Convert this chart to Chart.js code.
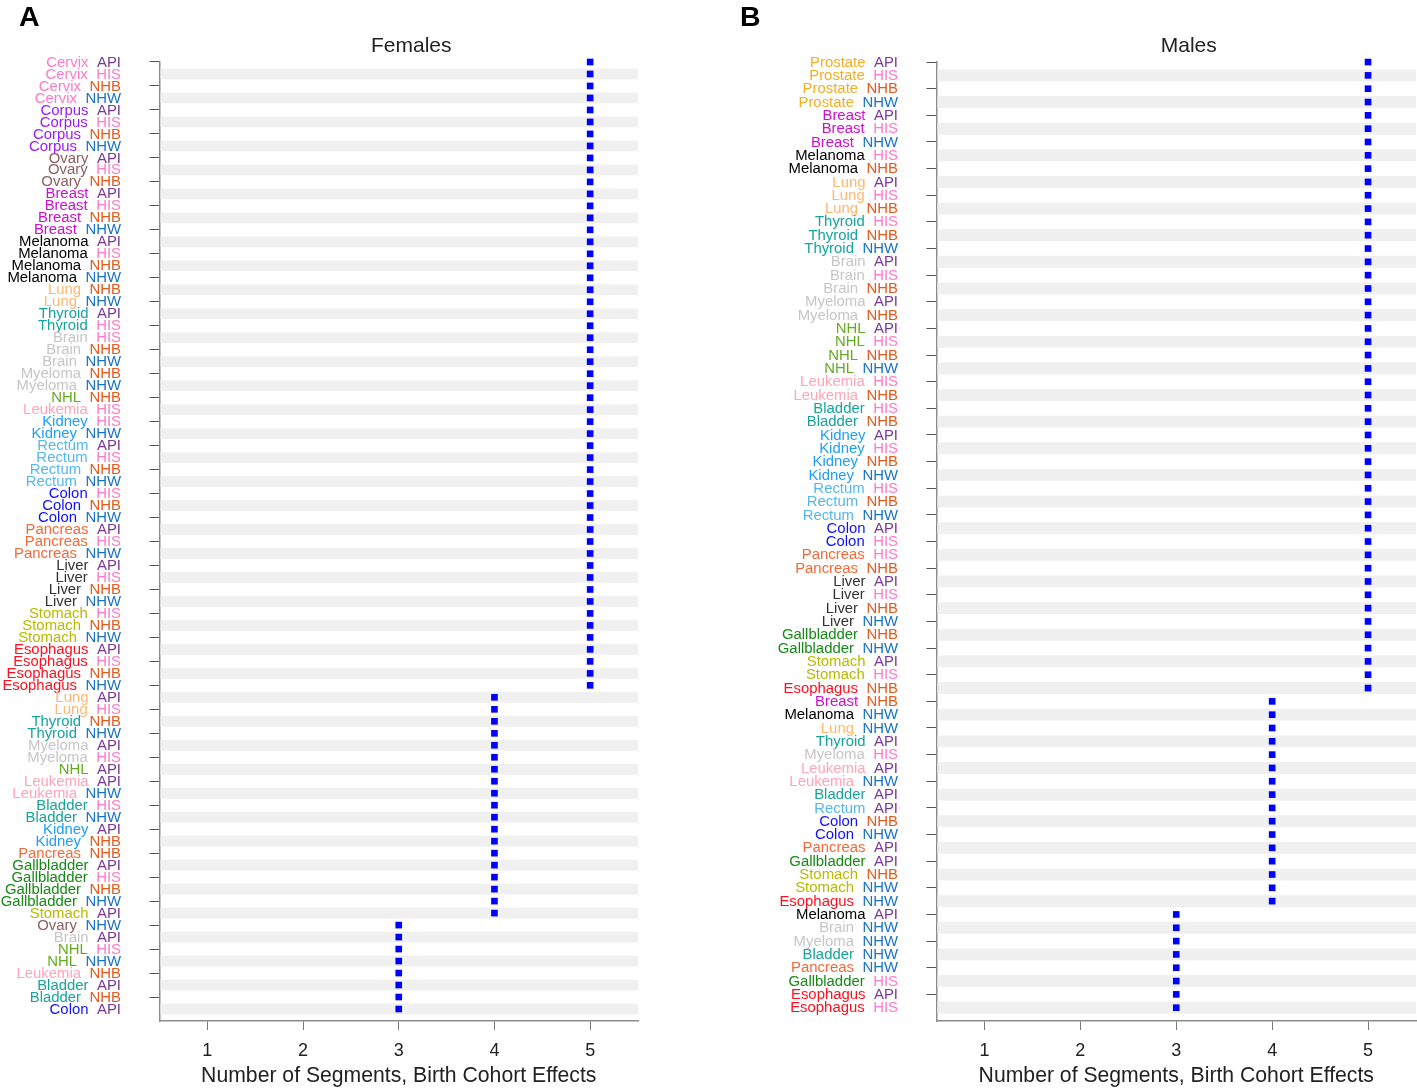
<!DOCTYPE html>
<html>
<head>
<meta charset="utf-8">
<script src="https://cdn.jsdelivr.net/npm/chart.js@4.4.1/dist/chart.umd.min.js"></script>
<style>
  html, body { margin: 0; padding: 0; background: #fff; }
  #wrap { position: relative; width: 1417px; height: 1089px; }
  #femalesChart { position: absolute; left: 0; top: 0; }
  #malesChart { position: absolute; left: 700px; top: 0; }
</style>
</head>
<body>
<div id="wrap">
  <canvas id="femalesChart" width="660" height="1089"></canvas>
  <canvas id="malesChart" width="717" height="1089"></canvas>
</div>
<script>
// Females, top to bottom
const femaleSites = [
  "Cervix", "Cervix", "Cervix", "Cervix", "Corpus", "Corpus", "Corpus", "Corpus",
  "Ovary", "Ovary", "Ovary", "Breast", "Breast", "Breast", "Breast",
  "Melanoma", "Melanoma", "Melanoma", "Melanoma", "Lung", "Lung", "Thyroid", "Thyroid",
  "Brain", "Brain", "Brain", "Myeloma", "Myeloma", "NHL", "Leukemia", "Kidney", "Kidney",
  "Rectum", "Rectum", "Rectum", "Rectum", "Colon", "Colon", "Colon",
  "Pancreas", "Pancreas", "Pancreas", "Liver", "Liver", "Liver", "Liver",
  "Stomach", "Stomach", "Stomach", "Esophagus", "Esophagus", "Esophagus", "Esophagus",
  "Lung", "Lung", "Thyroid", "Thyroid", "Myeloma", "Myeloma", "NHL", "Leukemia", "Leukemia",
  "Bladder", "Bladder", "Kidney", "Kidney", "Pancreas",
  "Gallbladder", "Gallbladder", "Gallbladder", "Gallbladder", "Stomach",
  "Ovary", "Brain", "NHL", "NHL", "Leukemia", "Bladder", "Bladder", "Colon"
];
const femaleRaces = [
  "API", "HIS", "NHB", "NHW", "API", "HIS", "NHB", "NHW",
  "API", "HIS", "NHB", "API", "HIS", "NHB", "NHW",
  "API", "HIS", "NHB", "NHW", "NHB", "NHW", "API", "HIS",
  "HIS", "NHB", "NHW", "NHB", "NHW", "NHB", "HIS", "HIS", "NHW",
  "API", "HIS", "NHB", "NHW", "HIS", "NHB", "NHW",
  "API", "HIS", "NHW", "API", "HIS", "NHB", "NHW",
  "HIS", "NHB", "NHW", "API", "HIS", "NHB", "NHW",
  "API", "HIS", "NHB", "NHW", "API", "HIS", "API", "API", "NHW",
  "HIS", "NHW", "API", "NHB", "NHB",
  "API", "HIS", "NHB", "NHW", "API",
  "NHW", "API", "HIS", "NHW", "NHB", "API", "NHB", "API"
];
const femaleSegments = [
  5, 5, 5, 5, 5, 5, 5, 5,
  5, 5, 5, 5, 5, 5, 5,
  5, 5, 5, 5, 5, 5, 5, 5,
  5, 5, 5, 5, 5, 5, 5, 5, 5,
  5, 5, 5, 5, 5, 5, 5,
  5, 5, 5, 5, 5, 5, 5,
  5, 5, 5, 5, 5, 5, 5,
  4, 4, 4, 4, 4, 4, 4, 4, 4,
  4, 4, 4, 4, 4,
  4, 4, 4, 4, 4,
  3, 3, 3, 3, 3, 3, 3, 3
];

// Males, top to bottom
const maleSites = [
  "Prostate", "Prostate", "Prostate", "Prostate", "Breast", "Breast", "Breast",
  "Melanoma", "Melanoma", "Lung", "Lung", "Lung", "Thyroid", "Thyroid", "Thyroid",
  "Brain", "Brain", "Brain", "Myeloma", "Myeloma", "NHL", "NHL", "NHL", "NHL",
  "Leukemia", "Leukemia", "Bladder", "Bladder", "Kidney", "Kidney", "Kidney", "Kidney",
  "Rectum", "Rectum", "Rectum", "Colon", "Colon", "Pancreas", "Pancreas",
  "Liver", "Liver", "Liver", "Liver", "Gallbladder", "Gallbladder", "Stomach", "Stomach", "Esophagus",
  "Breast", "Melanoma", "Lung", "Thyroid", "Myeloma", "Leukemia", "Leukemia", "Bladder",
  "Rectum", "Colon", "Colon", "Pancreas", "Gallbladder", "Stomach", "Stomach", "Esophagus",
  "Melanoma", "Brain", "Myeloma", "Bladder", "Pancreas", "Gallbladder", "Esophagus", "Esophagus"
];
const maleRaces = [
  "API", "HIS", "NHB", "NHW", "API", "HIS", "NHW",
  "HIS", "NHB", "API", "HIS", "NHB", "HIS", "NHB", "NHW",
  "API", "HIS", "NHB", "API", "NHB", "API", "HIS", "NHB", "NHW",
  "HIS", "NHB", "HIS", "NHB", "API", "HIS", "NHB", "NHW",
  "HIS", "NHB", "NHW", "API", "HIS", "HIS", "NHB",
  "API", "HIS", "NHB", "NHW", "NHB", "NHW", "API", "HIS", "NHB",
  "NHB", "NHW", "NHW", "API", "HIS", "API", "NHW", "API",
  "API", "NHB", "NHW", "API", "API", "NHB", "NHW", "NHW",
  "API", "NHW", "NHW", "NHW", "NHW", "HIS", "API", "HIS"
];
const maleSegments = [
  5, 5, 5, 5, 5, 5, 5,
  5, 5, 5, 5, 5, 5, 5, 5,
  5, 5, 5, 5, 5, 5, 5, 5, 5,
  5, 5, 5, 5, 5, 5, 5, 5,
  5, 5, 5, 5, 5, 5, 5,
  5, 5, 5, 5, 5, 5, 5, 5, 5,
  4, 4, 4, 4, 4, 4, 4, 4,
  4, 4, 4, 4, 4, 4, 4, 4,
  3, 3, 3, 3, 3, 3, 3, 3
];

const xTicks = [1, 2, 3, 4, 5];

const siteColors = {
  Cervix: "#ff7ac8", Corpus: "#9b1cff", Ovary: "#8c5f5f", Breast: "#cc10cc",
  Melanoma: "#000000", Lung: "#ffb870", Thyroid: "#18a3a0", Brain: "#c6c6c6",
  Myeloma: "#c6c6c6", NHL: "#66aa22", Leukemia: "#ffa5b8", Kidney: "#1ea0f5",
  Rectum: "#55b8ea", Colon: "#1010ff", Pancreas: "#f26a3c", Liver: "#333333",
  Stomach: "#b8ba00", Esophagus: "#ff1020", Gallbladder: "#168a16",
  Bladder: "#18a39a", Prostate: "#f2ae25"
};
const raceColors = { API: "#7a3896", HIS: "#ff7ac8", NHB: "#e35a1e", NHW: "#1a72c4" };

const FONT = '"Liberation Sans", Arial, Helvetica, sans-serif';
Chart.defaults.font.family = FONT;
Chart.defaults.color = "#222";

// light grey band behind every second row
const stripes = {
  id: "stripes",
  beforeDatasetsDraw(chart, args, opts) {
    const { ctx, chartArea, scales: { y } } = chart;
    const step = Math.abs(y.getPixelForValue(1) - y.getPixelForValue(0));
    ctx.save();
    ctx.fillStyle = "#f0f0f0";
    for (let i = 1; i < opts.rows; i += 2) {
      const py = y.getPixelForValue(i);
      ctx.fillRect(chartArea.left + 1, py - step * 0.45, chartArea.right - chartArea.left - 1, step * 0.9);
    }
    ctx.restore();
  }
};

// two-colour row labels (site + race), panel title and letter
const rowLabels = {
  id: "rowLabels",
  afterDraw(chart, args, opts) {
    const { ctx, chartArea, scales: { y } } = chart;
    const right = chartArea.left - 38.5;
    ctx.save();
    ctx.font = "14.9px " + FONT;
    ctx.textAlign = "right";
    ctx.textBaseline = "middle";
    opts.sites.forEach((site, i) => {
      const py = y.getPixelForValue(i) + 0.5;
      const race = opts.races[i];
      ctx.fillStyle = raceColors[race];
      ctx.fillText(race, right, py);
      ctx.fillStyle = siteColors[site];
      ctx.fillText(site, right - ctx.measureText(race).width - 8.5, py);
    });

    ctx.font = "21px " + FONT;
    ctx.fillStyle = "#222";
    ctx.textAlign = "center";
    ctx.fillText(opts.title, (chartArea.left + chartArea.right) / 2 + 12.5, 46);

    ctx.font = "bold 28.5px " + FONT;
    ctx.fillStyle = "#000";
    ctx.textAlign = "left";
    ctx.textBaseline = "alphabetic";
    ctx.fillText(opts.letter, opts.letterX, 25.5);
    ctx.restore();
  }
};

function makeChart(id, sites, races, segments, title, letter, letterX, yWidth, rightPad) {
  return new Chart(document.getElementById(id), {
    type: "scatter",
    data: {
      datasets: [{
        data: segments.map((v, i) => ({ x: v, y: i })),
        clip: false,
        pointStyle: "rect",
        pointRadius: 4.7,
        pointBackgroundColor: "#0000ff",
        pointBorderColor: "#0000ff",
        pointBorderWidth: 0
      }]
    },
    options: {
      responsive: false,
      animation: false,
      layout: { autoPadding: false, padding: { top: 61.4, right: rightPad, left: 0, bottom: 0 } },
      plugins: {
        legend: { display: false },
        tooltip: { enabled: false },
        stripes: { rows: sites.length },
        rowLabels: { sites: sites, races: races, title: title, letter: letter, letterX: letterX }
      },
      scales: {
        x: {
          type: "linear",
          min: 0.5,
          max: 5.5,
          afterBuildTicks: (axis) => { axis.ticks = xTicks.map((v) => ({ value: v })); },
          afterFit: (axis) => {
            axis.height = 68;
            axis.paddingLeft = 0;
            axis.paddingRight = 0;
          },
          grid: { drawOnChartArea: false, drawTicks: true, tickLength: 9, tickColor: "#777" },
          border: { color: "#8c8c8c", width: 1.5 },
          ticks: { font: { size: 18 }, color: "#222", padding: 10 },
          title: {
            display: true,
            text: "Number of Segments, Birth Cohort Effects",
            font: { size: 21.2 },
            color: "#222",
            padding: 0
          }
        },
        y: {
          type: "linear",
          reverse: true,
          min: -0.05,
          max: sites.length,
          afterBuildTicks: (axis) => { axis.ticks = sites.map((s, i) => ({ value: i })); },
          afterFit: (axis) => { axis.width = yWidth; },
          grid: { drawOnChartArea: false, drawTicks: true, tickLength: 10, tickColor: "#555" },
          border: { color: "#8c8c8c", width: 1.5 },
          ticks: { callback: () => "" }
        }
      }
    },
    plugins: [stripes, rowLabels]
  });
}

makeChart("femalesChart", femaleSites, femaleRaces, femaleSegments, "Females", "A", 19, 159.5, 22);
makeChart("malesChart", maleSites, maleRaces, maleSegments, "Males", "B", 40, 236.5, 1);
</script>
</body>
</html>
